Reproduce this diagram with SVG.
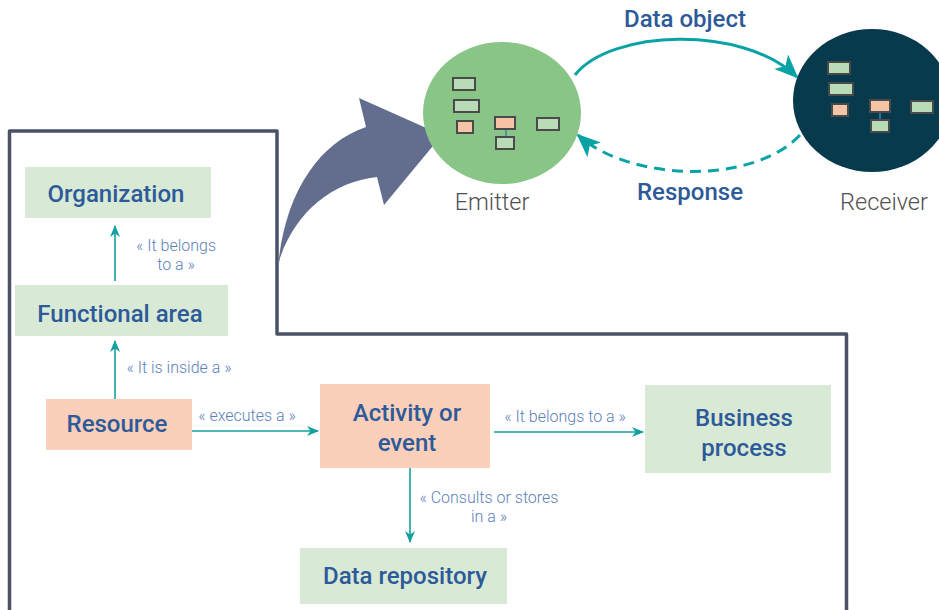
<svg xmlns="http://www.w3.org/2000/svg" width="939" height="610" viewBox="0 0 939 610">
  <defs>
    <style>
      .box-green { fill: #d8e9d6; }
      .box-orange { fill: #fbcfba; }
      .node-label { font-family: Roboto, "Liberation Sans", sans-serif; font-weight: 500; font-size: 24px; fill: #2d5a98; text-anchor: middle; }
      .edge-label { font-family: Roboto, "Liberation Sans", sans-serif; font-weight: 300; font-size: 16px; fill: #5b7fb8; text-anchor: middle; }
      .flow-label { font-family: Roboto, "Liberation Sans", sans-serif; font-weight: 500; font-size: 24px; fill: #2d5a98; text-anchor: middle; }
      .actor-label { font-family: Roboto, "Liberation Sans", sans-serif; font-weight: 300; font-size: 23.5px; fill: #505050; text-anchor: middle; }
      .link { fill: none; stroke: #14a0a0; stroke-width: 1.6; marker-end: url(#tip); }
      .flow { fill: none; stroke: #0aa3a5; stroke-width: 3; marker-end: url(#bigtip); }
      .mini-g { fill: #b9dcb7; stroke: #4a4a4a; stroke-width: 2; }
      .mini-o { fill: #f5c3a6; stroke: #4a4a4a; stroke-width: 2; }
      .mini-link { stroke: #3f7fb5; stroke-width: 1.5; }
    </style>
    <marker id="tip" viewBox="0 0 12 10" refX="11" refY="5" markerWidth="12" markerHeight="10" markerUnits="userSpaceOnUse" orient="auto">
      <path d="M0,0 L12,5 L0,10 L3.5,5 z" fill="#14a0a0"/>
    </marker>
    <marker id="bigtip" viewBox="0 0 24 20" refX="22" refY="10" markerWidth="24" markerHeight="20" markerUnits="userSpaceOnUse" orient="auto">
      <path d="M0,0 L24,10 L0,20 L6,10 z" fill="#0aa3a5"/>
    </marker>
  </defs>

  <rect width="939" height="610" fill="#ffffff"/>

  <!-- stepped frame around the domain model -->
  <path d="M9.5,610 L9.5,131 L277,131 L277,334 L846.5,334 L846.5,610" fill="none" stroke="#4b5268" stroke-width="3.5" stroke-linejoin="round"/>

  <!-- curved transfer arrow -->
  <path d="M278,268 C284,195 318,143 366,127 L359,98 L442,135 L384,205 L377,177 C332,182 296,212 280,258 Z" fill="#636e8e"/>

  <g id="connectors">
    <path class="link" d="M115,281 L115,226"/>
    <path class="link" d="M115,399 L115,341"/>
    <path class="link" d="M192,431 L318,431"/>
    <path class="link" d="M494,432 L643,432"/>
    <path class="link" d="M410,468 L410,542"/>
    <path class="flow" d="M575,75 C610,30 742,24 797,77"/>
    <path class="flow" d="M800,135 C752,186 628,181 578,135" stroke-dasharray="11 7"/>
    <text class="edge-label" x="176" y="251">« It belongs<tspan x="176" dy="18.5">to a »</tspan></text>
    <text class="edge-label" x="179" y="373">« It is inside a »</text>
    <text class="edge-label" x="247" y="421">« executes a »</text>
    <text class="edge-label" x="565" y="422">« It belongs to a »</text>
    <text class="edge-label" x="489" y="503">« Consults or stores<tspan x="489" dy="18.5">in a »</tspan></text>
    <text class="flow-label" x="685" y="27">Data object</text>
    <text class="flow-label" x="690" y="200">Response</text>
  </g>

  <g id="organization">
    <rect class="box-green" x="25" y="167" width="186" height="51"/>
    <text class="node-label" x="116" y="202">Organization</text>
  </g>

  <g id="functional-area">
    <rect class="box-green" x="15" y="285" width="213" height="51"/>
    <text class="node-label" x="120" y="322">Functional area</text>
  </g>

  <g id="resource">
    <rect class="box-orange" x="46" y="399" width="146" height="51"/>
    <text class="node-label" x="117" y="432">Resource</text>
  </g>

  <g id="activity">
    <rect class="box-orange" x="320" y="384" width="170" height="84"/>
    <text class="node-label" x="407" y="421">Activity or<tspan x="407" dy="30">event</tspan></text>
  </g>

  <g id="business-process">
    <rect class="box-green" x="645" y="385" width="186" height="88"/>
    <text class="node-label" x="744" y="426">Business<tspan x="744" dy="30">process</tspan></text>
  </g>

  <g id="data-repository">
    <rect class="box-green" x="300" y="548" width="207" height="56"/>
    <text class="node-label" x="405" y="584">Data repository</text>
  </g>

  <g id="emitter">
    <ellipse cx="502" cy="113" rx="79" ry="71" fill="#88c587"/>
    <rect class="mini-g" x="453" y="78" width="22" height="12"/>
    <rect class="mini-g" x="454" y="100" width="25" height="12"/>
    <rect class="mini-o" x="457" y="121" width="16" height="12"/>
    <line class="mini-link" x1="506" y1="129" x2="506" y2="137"/>
    <rect class="mini-o" x="495" y="117" width="20" height="12"/>
    <rect class="mini-g" x="496" y="137" width="18" height="12"/>
    <rect class="mini-g" x="537" y="118" width="22" height="12"/>
    <text class="actor-label" x="492" y="210">Emitter</text>
  </g>

  <g id="receiver">
    <ellipse cx="872" cy="100.5" rx="79" ry="71.5" fill="#073a4c"/>
    <rect class="mini-g" x="828" y="62" width="22" height="12"/>
    <rect class="mini-g" x="829" y="83" width="24" height="12"/>
    <rect class="mini-o" x="832" y="104" width="16" height="12"/>
    <line class="mini-link" x1="880" y1="112" x2="880" y2="120"/>
    <rect class="mini-o" x="870" y="100" width="20" height="12"/>
    <rect class="mini-g" x="871" y="120" width="18" height="12"/>
    <rect class="mini-g" x="911" y="101" width="22" height="12"/>
    <text class="actor-label" x="884" y="210">Receiver</text>
  </g>
</svg>
